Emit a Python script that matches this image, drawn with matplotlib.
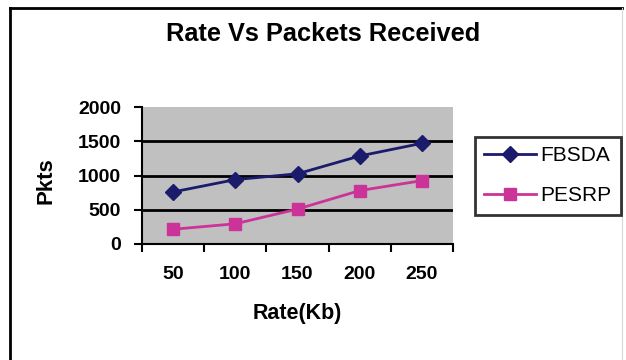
import numpy as np
import matplotlib.pyplot as plt
from matplotlib.lines import Line2D

rates = ['50', '100', '150', '200', '250']
fbsda = [760, 940, 1025, 1285, 1470]
pesrp = [215, 295, 510, 780, 925]

plt.rcParams['font.family'] = ['Liberation Sans', 'DejaVu Sans']

W, H = 626, 360
fig = plt.figure(figsize=(W / 100, H / 100), dpi=100)
fig.patch.set_facecolor('white')

# chart frame: heavy top and left edge, faint right edge
def px(x, y):
    return x / W, 1 - y / H

fig.add_artist(Line2D([10 / W, 622 / W], [1 - 7.5 / H] * 2, transform=fig.transFigure,
                      color='black', linewidth=2))
fig.add_artist(Line2D([10 / W] * 2, [0, 1 - 7.5 / H], transform=fig.transFigure,
                      color='black', linewidth=2))
fig.add_artist(Line2D([622 / W] * 2, [0, 1 - 7.5 / H], transform=fig.transFigure,
                      color='#d8d8d8', linewidth=0.8))

ax = fig.add_axes([142 / W, 1 - 244 / H, (453 - 142) / W, (244 - 107) / H])
ax.set_facecolor('#c0c0c0')

x = np.arange(1, len(rates) + 1)
ax.plot(x, fbsda, color='#1b1b6b', marker='D', markersize=8, linewidth=2, label='FBSDA')
ax.plot(x, pesrp, color='#cc3399', marker='s', markersize=9, linewidth=2, label='PESRP')

ax.set_xlim(0.5, 5.5)
ax.set_ylim(0, 2000)
ax.set_yticks([0, 500, 1000, 1500, 2000])
for yv in [500, 1000, 1500]:
    ax.axhline(yv, color='black', linewidth=2, zorder=1)

ax.set_xticks(np.arange(0.5, 6, 1))
ax.set_xticklabels([])
ax.set_xticks(x, minor=True)
ax.set_xticklabels(rates, minor=True)
ax.tick_params(axis='x', which='minor', length=0, pad=16, labelsize=14)
ax.tick_params(axis='x', which='major', length=6, width=1.5, direction='out')
ax.tick_params(axis='y', length=6, width=1.5, labelsize=14, pad=9)
for lbl in ax.get_xticklabels(minor=True) + ax.get_yticklabels():
    lbl.set_fontweight('bold')

for s in ['top', 'right']:
    ax.spines[s].set_visible(False)
ax.spines['left'].set_linewidth(1.5)
ax.spines['bottom'].set_linewidth(1.5)

fig.text(*px(46, 181), 'Pkts', rotation=90, ha='center', va='center',
         fontsize=16, fontweight='bold')
fig.text(*px(297, 314), 'Rate(Kb)', ha='center', va='center',
         fontsize=15.5, fontweight='bold')
fig.text(*px(323, 34), 'Rate Vs Packets Received', ha='center', va='center',
         fontsize=18.3, fontweight='bold')

leg = fig.legend(loc='upper left', bbox_to_anchor=px(475, 137), frameon=True,
                 fancybox=False, edgecolor='black', fontsize=15, handlelength=2.5,
                 borderpad=0.45, labelspacing=1.0, handletextpad=0.2,
                 borderaxespad=0)
leg.get_frame().set_linewidth(2)

fig.savefig('out.png', dpi=100)
